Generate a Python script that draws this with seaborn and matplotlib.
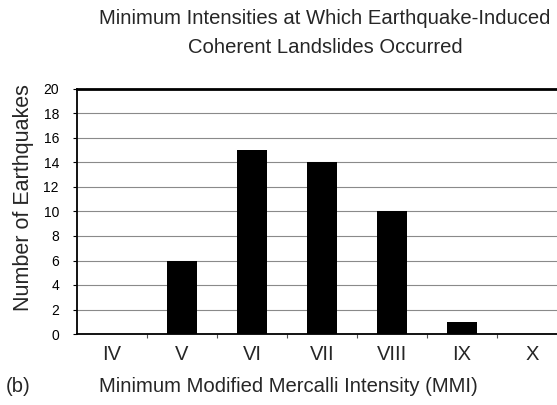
import numpy as np
import pandas as pd
import matplotlib
matplotlib.use("Agg")
import matplotlib.pyplot as plt
import seaborn as sns

# Minimum MMI at which coherent landslides occurred
intensities = ["IV", "V", "VI", "VII", "VIII", "IX", "X"]
counts = [0, 6, 15, 14, 10, 1, 0]
y_ticks = [0, 2, 4, 6, 8, 10, 12, 14, 16, 18, 20]

sns.set_theme(style="white")
plt.rcParams["font.family"] = ["Liberation Sans", "DejaVu Sans"]

df = pd.DataFrame({"MMI": intensities, "Count": counts})

fig = plt.figure(figsize=(5.57, 4.05), dpi=100)
ax = fig.add_axes([77 / 557, 71 / 405, 490 / 557, 245 / 405])

sns.barplot(data=df, x="MMI", y="Count", color="black", width=0.42,
            saturation=1, linewidth=0, ax=ax, zorder=3)

ax.set_ylim(0, 20)
ax.set_xlim(-0.5, 6.5)
ax.set_yticks(y_ticks)
ax.set_yticklabels([str(t) for t in y_ticks], fontsize=10)
for t in y_ticks[1:-1]:
    ax.axhline(t, color="#8a8a8a", lw=0.8, zorder=1)

ax.set_xticks(range(len(intensities)))
ax.set_xticklabels(intensities, fontsize=14.5)
ax.set_xticks(np.arange(0.5, len(intensities) - 0.5, 1), minor=True)
ax.tick_params(axis="x", which="major", length=0, pad=8)
ax.tick_params(axis="x", which="minor", length=3, width=0.8, color="#555555",
               direction="out", bottom=True)
ax.tick_params(axis="y", length=3, width=0.8, left=True, pad=10, colors="black")

ax.set_xlabel("")
ax.set_ylabel("")

for side in ["left", "bottom"]:
    ax.spines[side].set_color("black")
    ax.spines[side].set_linewidth(1.3)
ax.spines["top"].set_color("black")
ax.spines["top"].set_linewidth(2.0)
ax.spines["right"].set_visible(False)

fig.text(325 / 557, 1 - 33 / 405,
         "Minimum Intensities at Which Earthquake-Induced\nCoherent Landslides Occurred",
         ha="center", va="center", fontsize=14.6, linespacing=1.62)
fig.text(288 / 557, 1 - 386 / 405, "Minimum Modified Mercalli Intensity (MMI)",
         ha="center", va="center", fontsize=14.6)
fig.text(6 / 557, 1 - 386 / 405, "(b)", ha="left", va="center", fontsize=14.6)
fig.text(23 / 557, 1 - 198 / 405, "Number of Earthquakes", rotation=90,
         ha="center", va="center", fontsize=15.5)

fig.savefig("out.png", dpi=100)
